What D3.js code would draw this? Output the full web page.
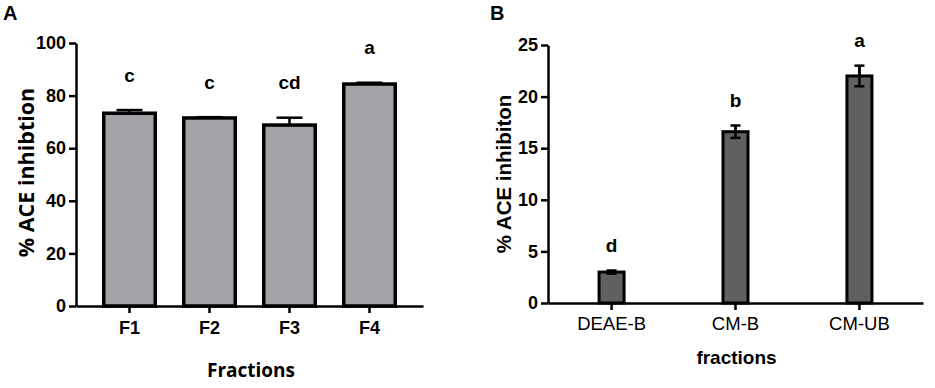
<!DOCTYPE html>
<html>
<head>
<meta charset="utf-8">
<script src="https://cdn.jsdelivr.net/npm/d3@7"></script>
<style>
  body { margin: 0; background: #fff; }
  svg { display: block; font-family: "Liberation Sans", Arial, sans-serif; }
  .axis path, .axis line { stroke: #000; stroke-width: 2.5; }
</style>
</head>
<body>
<div id="wrapper"></div>
<script>
// panel A data
const fractionsA = ["F1", "F2", "F3", "F4"]
const valuesA = [73.3, 71.5, 68.8, 84.4]
const errorsA = [1.2, 0.3, 2.8, 0.5]
const lettersA = ["c", "c", "cd", "a"]
const ticksA = [0, 20, 40, 60, 80, 100]

// panel B data
const fractionsB = ["DEAE-B", "CM-B", "CM-UB"]
const valuesB = [3.0, 16.6, 22.0]
const errorsB = [0.15, 0.6, 1.0]
const lettersB = ["d", "b", "a"]
const ticksB = [0, 5, 10, 15, 20, 25]

function drawPanel(svg, opts) {
  const dims = opts.dimensions
  const bounds = svg.append("g")
    .attr("transform", `translate(${dims.left},${dims.top})`)

  const xScale = d3.scaleBand()
    .domain(opts.categories)
    .range([0, dims.width])
    .paddingInner(opts.paddingInner)
    .paddingOuter(opts.paddingOuter)

  const yScale = d3.scaleLinear()
    .domain([0, opts.ticks[opts.ticks.length - 1]])
    .range([dims.height, 0])

  const data = opts.categories.map((c, i) => ({
    cat: c, value: opts.values[i], err: opts.errors[i], letter: opts.letters[i]
  }))
  const cx = d => xScale(d.cat) + xScale.bandwidth() / 2

  // error bars (drawn before bars so the lower half hides in panel A)
  const err = bounds.append("g")
  err.selectAll("line.whisker")
    .data(data)
    .join("line")
      .attr("x1", cx)
      .attr("x2", cx)
      .attr("y1", d => yScale(d.value + d.err))
      .attr("y2", d => yScale(d.value - d.err))
      .attr("stroke", "#000")
      .attr("stroke-width", 2.5)
  err.selectAll("line.cap")
    .data(data)
    .join("line")
      .attr("x1", d => cx(d) - opts.capWidth / 2)
      .attr("x2", d => cx(d) + opts.capWidth / 2)
      .attr("y1", d => yScale(d.value + d.err))
      .attr("y2", d => yScale(d.value + d.err))
      .attr("stroke", "#000")
      .attr("stroke-width", 2.5)

  bounds.append("g")
    .selectAll("rect")
    .data(data)
    .join("rect")
      .attr("x", d => xScale(d.cat) + opts.barStroke / 2)
      .attr("width", xScale.bandwidth() - opts.barStroke)
      .attr("y", d => yScale(d.value))
      .attr("height", d => dims.height - yScale(d.value))
      .attr("fill", opts.barFill)
      .attr("stroke", "#000")
      .attr("stroke-width", opts.barStroke)

  if (opts.bothWhiskers) {
    // lower whisker and cap visible on top of the bar
    const low = bounds.append("g")
    low.selectAll("line.inner")
      .data(data)
      .join("line")
        .attr("x1", cx)
        .attr("x2", cx)
        .attr("y1", d => yScale(d.value + d.err))
        .attr("y2", d => yScale(d.value - d.err))
        .attr("stroke", "#000")
        .attr("stroke-width", 2.5)
    low.selectAll("line.lowcap")
      .data(data)
      .join("line")
        .attr("x1", d => cx(d) - opts.capWidth / 2)
        .attr("x2", d => cx(d) + opts.capWidth / 2)
        .attr("y1", d => yScale(d.value - d.err))
        .attr("y2", d => yScale(d.value - d.err))
        .attr("stroke", "#000")
        .attr("stroke-width", 2.5)
  }

  // significance letters
  bounds.append("g")
    .selectAll("text")
    .data(data)
    .join("text")
      .attr("x", cx)
      .attr("y", d => yScale(d.value + d.err) - opts.letterOffset)
      .attr("dy", "0.35em")
      .attr("text-anchor", "middle")
      .attr("font-weight", 700)
      .style("font-size", "19px")
      .text(d => d.letter)

  // axes
  const yAxis = bounds.append("g")
    .attr("class", "axis")
    .call(d3.axisLeft(yScale).tickValues(opts.ticks).tickSize(7).tickSizeOuter(0).tickPadding(3))
  yAxis.selectAll("text")
    .attr("fill", "#000")
    .attr("font-weight", 700)
    .style("font-size", opts.yTickSize)

  const xAxis = bounds.append("g")
    .attr("class", "axis")
    .attr("transform", `translate(0,${dims.height})`)
    .call(d3.axisBottom(xScale).tickSize(7).tickSizeOuter(0).tickPadding(opts.xTickPadding))
  xAxis.selectAll("text")
    .attr("fill", "#000")
    .attr("font-weight", opts.xTickWeight)
    .style("font-size", opts.xTickSize)

  // titles
  bounds.append("text")
    .attr("transform", `translate(${opts.yLabelX},${dims.height / 2 + opts.yLabelShift}) rotate(-90)`)
    .attr("text-anchor", "middle")
    .attr("font-weight", 700)
    .style("font-size", opts.yLabelSize)
    .style("font-family", opts.labelFont)
    .text(opts.yLabel)

  bounds.append("text")
    .attr("x", opts.xLabelX)
    .attr("y", dims.height + opts.xLabelY)
    .attr("dy", "0.35em")
    .attr("text-anchor", "middle")
    .attr("font-weight", 700)
    .style("font-size", "19px")
    .style("font-family", opts.labelFont)
    .text(opts.xLabel)

  svg.append("text")
    .attr("x", opts.panelX)
    .attr("y", 20)
    .attr("font-weight", 700)
    .style("font-size", "20px")
    .text(opts.panel)
}

function drawChart() {
  const width = 935
  const height = 388

  const svg = d3.select("#wrapper")
    .append("svg")
      .attr("width", width)
      .attr("height", height)

  drawPanel(svg, {
    panel: "A", panelX: 3,
    dimensions: { left: 76, top: 43, width: 347, height: 263 },
    categories: fractionsA, values: valuesA, errors: errorsA, letters: lettersA, ticks: ticksA,
    paddingInner: 0.3125, paddingOuter: 0.325,
    barFill: "#a3a3a7", barStroke: 3.5, capWidth: 26, bothWhiskers: false,
    letterOffset: 35,
    yTickSize: "18px", xTickSize: "18px", xTickWeight: 700, xTickPadding: 8,
    labelFont: "'Open Sans', 'Liberation Sans', sans-serif",
    yLabel: "% ACE inhibtion", yLabelX: -42, yLabelShift: -2, yLabelSize: "21.5px",
    xLabel: "Fractions", xLabelX: 175, xLabelY: 64
  })

  drawPanel(svg, {
    panel: "B", panelX: 490,
    dimensions: { left: 548, top: 45, width: 375, height: 258 },
    categories: fractionsB, values: valuesB, errors: errorsB, letters: lettersB, ticks: ticksB,
    paddingInner: 0.774, paddingOuter: 0.4,
    barFill: "#606060", barStroke: 3, capWidth: 10, bothWhiskers: true,
    letterOffset: 25,
    yTickSize: "18px", xTickSize: "18.5px", xTickWeight: 400, xTickPadding: 7,
    labelFont: "'Liberation Sans', Arial, sans-serif",
    yLabel: "% ACE inhibiton", yLabelX: -37, yLabelShift: 0, yLabelSize: "20.5px",
    xLabel: "fractions", xLabelX: 188.5, xLabelY: 54
  })
}

drawChart()
</script>
</body>
</html>
